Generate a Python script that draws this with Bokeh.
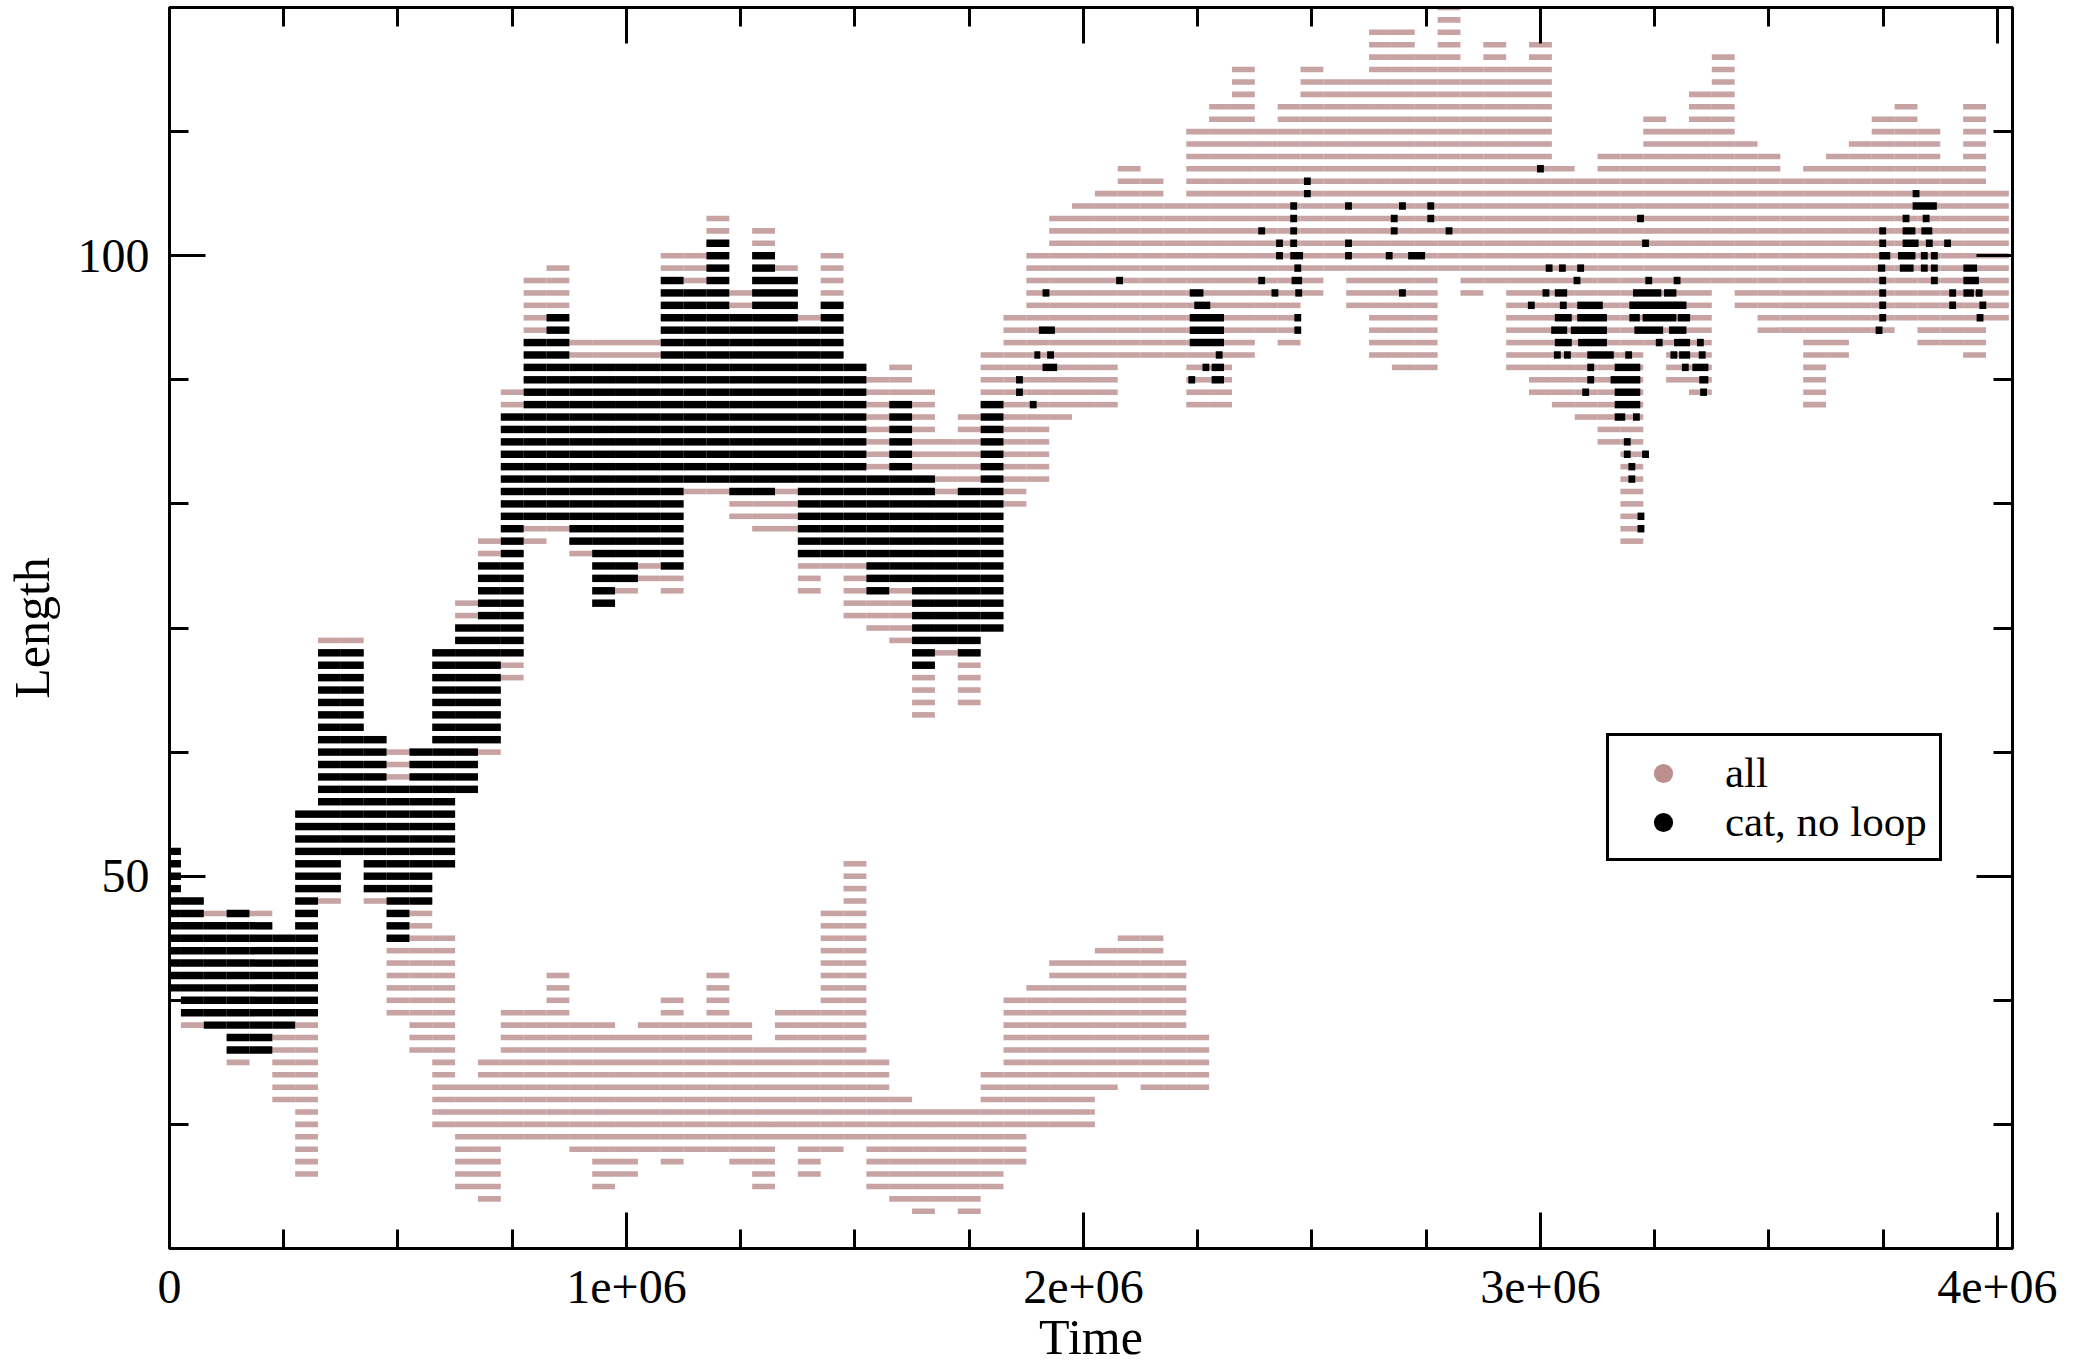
from bokeh.plotting import figure
from bokeh.models import (ColumnDataSource, Range1d, LinearAxis, FixedTicker,
                          Legend, LegendItem)
from bokeh.embed import file_html
from bokeh.resources import INLINE

# ---------------- data ----------------
# time columns, in thousands
T_K = [0, 50, 100, 150, 200, 250, 300, 350, 400, 450,
       500, 550, 600, 650, 700, 750, 800, 850, 900, 950,
       1000, 1050, 1100, 1150, 1200, 1250, 1300, 1350, 1400, 1450,
       1500, 1550, 1600, 1650, 1700, 1750, 1800, 1850, 1900, 1950,
       2000, 2050, 2100, 2150, 2200, 2250, 2300, 2350, 2400, 2450,
       2500, 2550, 2600, 2650, 2700, 2750, 2800, 2850, 2900, 2950,
       3000, 3050, 3100, 3150, 3200, 3250, 3300, 3350, 3400, 3450,
       3500, 3550, 3600, 3650, 3700, 3750, 3800, 3850, 3900, 3950,
       4000]

# "all": main (upper) band, lowest and highest length per time column
ALL_UP_LO = [41, 38, 38, 35, 36, 32, 26, 48, 52, 48,
             39, 36, 51, 57, 60, 66, 77, 78, 76, 72,
             73, 74, 73, 81, 81, 79, 78, 78, 73, 75,
             71, 70, 69, 63, 68, 64, 70, 80, 82, 87,
             88, 88, 92, 92, 92, 88, 88, 92, 94, 93,
             97, 99, 96, 92, 91, 91, 99, 97, 98, 91,
             89, 88, 87, 85, 77, 93, 90, 89, 98, 96,
             94, 94, 88, 92, 94, 94, 95, 93, 93, 92,
             95]
ALL_UP_HI = [52, 48, 47, 47, 47, 45, 55, 69, 69, 61,
             60, 60, 68, 72, 77, 89, 98, 99, 93, 93,
             93, 93, 100, 100, 103, 97, 102, 99, 95, 100,
             91, 90, 91, 89, 85, 87, 92, 95, 100, 103,
             104, 105, 107, 106, 104, 110, 112, 115, 110, 112,
             115, 114, 114, 118, 118, 116, 120, 115, 117, 115,
             117, 107, 106, 108, 108, 111, 110, 113, 116, 109,
             108, 106, 107, 108, 109, 111, 112, 110, 107, 112,
             105]

# "all": lower band (present from 0.6e6 to 2.25e6)
ALL_LOW_LO = [None] * 12 + [30, 25, 24, 29, 29, 29, 28, 25,
                            26, 28, 27, 28, 28, 27, 25, 29, 26, 28,
                            29, 25, 24, 23, 24, 23, 25, 27, 30, 30,
                            30, 33, 34, 33, 33, 33] + [None] * 35
ALL_LOW_HI = [None] * 12 + [45, 33, 35, 39, 39, 42, 38, 38,
                            37, 38, 40, 38, 42, 38, 36, 39, 39, 47,
                            51, 35, 32, 31, 31, 31, 34, 40, 41, 43,
                            43, 44, 45, 45, 43, 37] + [None] * 35

# "cat, no loop": dense band up to 1.8e6
CAT_LO = [41, 39, 38, 36, 36, 38, 39, 49, 52, 49,
          45, 48, 51, 57, 61, 68, 79, 79, 77, 72,
          74, 76, 75, 82, 82, 81, 81, 82, 76, 76,
          76, 73, 74, 67, 69, 68, 70]
CAT_HI = [52, 48, 46, 47, 46, 45, 55, 68, 68, 61,
          57, 60, 68, 70, 75, 87, 93, 95, 91, 91,
          91, 91, 98, 97, 101, 95, 100, 98, 94, 96,
          91, 82, 88, 82, 80, 81, 88]

# "cat, no loop": isolated runs after 1.85e6  (start k, end k, length)
CAT_RUNS = [
    (1855, 1865, 89), (1855, 1865, 90), (1885, 1895, 88), (1895, 1903, 92),
    (1905, 1935, 94), (1913, 1940, 91), (1923, 1933, 92), (1913, 1923, 97),
    (2074, 2084, 98),
    (2235, 2260, 97), (2245, 2275, 96), (2235, 2305, 95), (2235, 2305, 94),
    (2235, 2305, 93), (2292, 2302, 92), (2263, 2273, 91), (2283, 2305, 91),
    (2232, 2242, 90), (2283, 2305, 90),
    (2385, 2395, 102), (2385, 2395, 98), (2424, 2434, 101), (2424, 2434, 100),
    (2414, 2424, 97),
    (2455, 2465, 104), (2455, 2465, 103), (2455, 2465, 102), (2455, 2465, 101),
    (2455, 2478, 100), (2464, 2474, 99), (2458, 2476, 98), (2466, 2476, 97),
    (2464, 2474, 95), (2464, 2474, 94),
    (2485, 2495, 106), (2485, 2495, 105),
    (2575, 2585, 104), (2575, 2585, 101), (2575, 2585, 100),
    (2664, 2674, 100), (2675, 2685, 103), (2675, 2685, 102), (2693, 2703, 104),
    (2693, 2703, 97), (2713, 2745, 100), (2755, 2765, 104), (2755, 2765, 103),
    (2795, 2805, 102),
    (2975, 2985, 96), (2995, 3005, 107),
    (3214, 3224, 103), (3225, 3235, 101),
    (3014, 3024, 99), (3043, 3053, 99), (3083, 3093, 99),
    (3075, 3085, 98), (3232, 3242, 98), (3294, 3304, 98),
    (3007, 3017, 97), (3034, 3056, 97), (3205, 3262, 97), (3273, 3295, 97),
    (3045, 3055, 96), (3083, 3134, 96), (3197, 3317, 96),
    (3034, 3066, 95), (3083, 3143, 95), (3197, 3215, 95), (3226, 3295, 95),
    (3303, 3325, 95),
    (3026, 3056, 94), (3069, 3143, 94), (3208, 3266, 94), (3284, 3317, 94),
    (3034, 3066, 93), (3085, 3143, 93), (3255, 3265, 93), (3295, 3325, 93),
    (3345, 3355, 93),
    (3032, 3042, 92), (3054, 3064, 92), (3105, 3158, 92), (3188, 3198, 92),
    (3287, 3297, 92), (3306, 3325, 92), (3349, 3359, 92),
    (3105, 3115, 91), (3165, 3216, 91), (3312, 3322, 91), (3335, 3365, 91),
    (3105, 3115, 90), (3156, 3216, 90), (3350, 3365, 90),
    (3094, 3104, 89), (3165, 3216, 89), (3352, 3362, 89),
    (3165, 3216, 88), (3165, 3183, 87), (3205, 3215, 87),
    (3185, 3195, 85), (3185, 3195, 84), (3225, 3235, 84),
    (3195, 3205, 83), (3195, 3205, 82), (3215, 3225, 79), (3215, 3225, 78),
    (3817, 3827, 105), (3817, 3865, 104), (3795, 3805, 103), (3839, 3849, 103),
    (3744, 3754, 102), (3795, 3818, 102), (3836, 3855, 102),
    (3744, 3754, 101), (3795, 3825, 101), (3846, 3856, 101), (3886, 3896, 101),
    (3744, 3763, 100), (3785, 3818, 100), (3835, 3845, 100), (3857, 3867, 100),
    (3741, 3752, 99), (3789, 3814, 99), (3835, 3845, 99), (3857, 3867, 99),
    (3928, 3953, 99),
    (3744, 3754, 98), (3857, 3867, 98), (3928, 3957, 98),
    (3744, 3754, 97), (3897, 3907, 97), (3928, 3946, 97), (3955, 3965, 97),
    (3744, 3754, 96), (3897, 3907, 96), (3963, 3973, 96),
    (3744, 3754, 95), (3957, 3967, 95), (3736, 3746, 94),
]

X_MAJOR = [0, 1000000, 2000000, 3000000, 4000000]
X_LABELS = ["0", "1e+06", "2e+06", "3e+06", "4e+06"]
X_MINOR = [250000, 500000, 750000, 1250000, 1500000, 1750000,
           2250000, 2500000, 2750000, 3250000, 3500000, 3750000]
Y_MAJOR = [50, 100]
Y_MINOR = [30, 40, 60, 70, 80, 90, 110]

PINK = "#BC8F8F"
FONT = "Liberation Serif"
COL_W = 50000


def expand(tk, lo, hi):
    xs, ys = [], []
    for t, a, b in zip(tk, lo, hi):
        if a is None:
            continue
        for L in range(a, b + 1):
            xs.append(t * 1000)
            ys.append(L)
    return xs, ys


ux, uy = expand(T_K, ALL_UP_LO, ALL_UP_HI)
lx, ly = expand(T_K, ALL_LOW_LO, ALL_LOW_HI)
cx, cy = expand(T_K[:len(CAT_LO)], CAT_LO, CAT_HI)
all_src = ColumnDataSource(dict(x=ux + lx, y=uy + ly))
cat_src = ColumnDataSource(dict(x=cx, y=cy))
run_src = ColumnDataSource(dict(
    x=[(a + b) * 500 for a, b, _ in CAT_RUNS],
    w=[(b - a + 5) * 1000 for a, b, _ in CAT_RUNS],
    y=[L for _, _, L in CAT_RUNS]))

p = figure(frame_width=1843, frame_height=1241,
           x_range=Range1d(0, 4033000), y_range=Range1d(20, 120),
           output_backend="svg", toolbar_location=None,
           min_border_left=162, min_border_right=60,
           min_border_top=7, min_border_bottom=0,
           background_fill_color="white", border_fill_color="white")
p.xgrid.visible = False
p.ygrid.visible = False
p.outline_line_color = "black"
p.outline_line_width = 3

# legend proxies (one point each, taken from the data, drawn underneath and
# tiny, so only their legend swatch is visible)
r_all = p.scatter(x=ux[:1], y=uy[:1], marker="circle", size=0.1,
                  fill_color=PINK, line_color=None)
r_cat = p.scatter(x=cx[:1], y=cy[:1], marker="circle", size=0.1,
                  fill_color="black", line_color=None)

p.rect(x="x", y="y", width=COL_W, height=0.45, source=all_src,
       fill_color=PINK, fill_alpha=0.82, line_color=None)
p.rect(x="x", y="y", width=COL_W, height=0.6, source=cat_src,
       fill_color="black", line_color=None)
p.rect(x="x", y="y", width="w", height=0.6, source=run_src,
       fill_color="black", line_color=None)


def style_axis(ax, show_labels):
    ax.axis_line_width = 3
    ax.axis_line_color = "black"
    ax.major_tick_in = 36
    ax.major_tick_out = 0
    ax.minor_tick_in = 19
    ax.minor_tick_out = 0
    ax.major_tick_line_width = 3
    ax.minor_tick_line_width = 3
    ax.major_tick_line_color = "black"
    ax.minor_tick_line_color = "black"
    ax.major_label_text_font = FONT
    ax.axis_label_text_font = FONT
    ax.axis_label_text_font_style = "normal"
    ax.axis_label_text_color = "black"
    ax.axis_label_text_font_size = "50px"
    if show_labels:
        ax.major_label_text_color = "black"
        ax.major_label_text_font_size = "48px"
        ax.major_label_standoff = 20
    else:
        ax.major_label_text_color = None
        ax.major_label_text_font_size = "0px"
        ax.major_label_standoff = 0


xt = FixedTicker(ticks=X_MAJOR, minor_ticks=X_MINOR)
yt = FixedTicker(ticks=Y_MAJOR, minor_ticks=Y_MINOR)

xa = p.xaxis[0]
xa.ticker = xt
xa.major_label_overrides = {v: s for v, s in zip(X_MAJOR, X_LABELS)}
xa.axis_label = "Time"
style_axis(xa, True)
xa.major_label_standoff = 22
xa.axis_label_standoff = 3

ya = p.yaxis[0]
ya.ticker = yt
ya.axis_label = "Length"
style_axis(ya, True)
ya.axis_label_standoff = 15

top = LinearAxis(ticker=FixedTicker(ticks=X_MAJOR, minor_ticks=X_MINOR))
style_axis(top, False)
p.add_layout(top, "above")
right = LinearAxis(ticker=FixedTicker(ticks=Y_MAJOR, minor_ticks=Y_MINOR))
style_axis(right, False)
p.add_layout(right, "right")

legend = Legend(items=[LegendItem(label="all", renderers=[r_all]),
                       LegendItem(label="cat, no loop", renderers=[r_cat])],
                location=(1437, 387))
legend.label_text_font = FONT
legend.label_text_font_size = "43px"
legend.label_text_color = "black"
legend.border_line_color = "black"
legend.border_line_alpha = 1
legend.border_line_width = 3
legend.background_fill_color = "white"
legend.background_fill_alpha = 1
legend.padding = 12
legend.spacing = 0
legend.margin = 0
legend.glyph_width = 84
legend.glyph_height = 48
legend.label_standoff = 20
legend.label_height = 45
p.add_layout(legend)

open("out.html", "w").write(file_html(p, INLINE, title="Length vs Time"))
